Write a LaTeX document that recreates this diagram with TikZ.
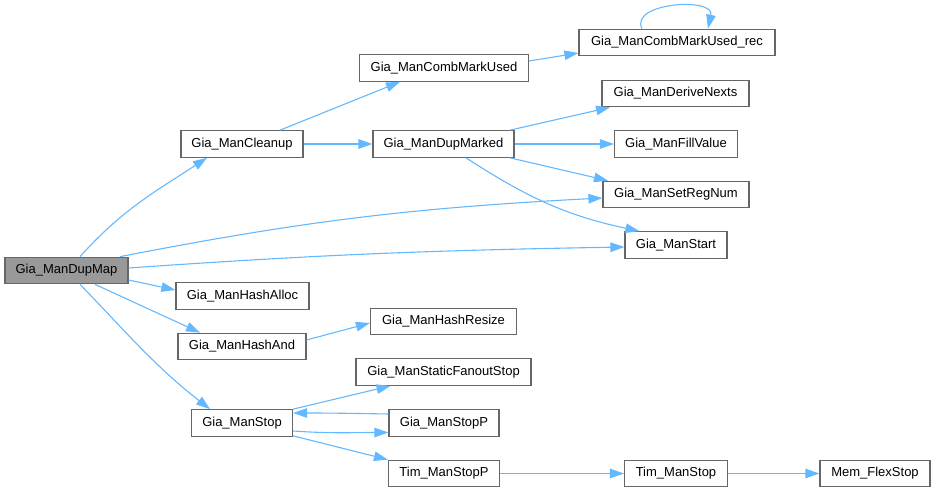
\documentclass[tikz,border=0pt]{standalone}
\usepackage{fontspec}
\setmainfont{Liberation Sans}
\usetikzlibrary{arrows.meta,calc}
\definecolor{edgeblue}{HTML}{63B8FF}
\definecolor{boxborder}{HTML}{666666}
\definecolor{rootfill}{HTML}{999999}
\begin{document}
\begin{tikzpicture}[x=1pt,y=1pt,
  fn/.style={draw=boxborder, fill=white, line width=1.2pt, minimum height=26.5pt,
    minimum width=#1, inner sep=0pt, font=\fontsize{13}{15}\selectfont},
  root/.style={fn=#1, fill=rootfill},
  call/.style={draw=edgeblue, line width=1.1pt, -{Triangle[length=14pt,width=9.5pt]}}]
\useasboundingbox (0,0) rectangle (935,-492);
% nodes
\node[root=123pt] (dupmap) at (66.5,-270.5) {Gia\_ManDupMap};
\node[fn=122pt] (cleanup) at (242,-144) {Gia\_ManCleanup};
\node[fn=133pt] (hashalloc) at (242.5,-296) {Gia\_ManHashAlloc};
\node[fn=128pt] (hashand) at (242,-346.5) {Gia\_ManHashAnd};
\node[fn=101pt] (stop) at (242,-423) {Gia\_ManStop};
\node[fn=169pt] (combmark) at (444,-68) {Gia\_ManCombMarkUsed};
\node[fn=196pt] (rec) at (677,-42.5) {Gia\_ManCombMarkUsed\_rec};
\node[fn=147pt] (derive) at (675.5,-93.5) {Gia\_ManDeriveNexts};
\node[fn=141pt] (dupmarked) at (443.5,-144) {Gia\_ManDupMarked};
\node[fn=123pt] (fillvalue) at (676,-144) {Gia\_ManFillValue};
\node[fn=146pt] (setreg) at (676,-194.5) {Gia\_ManSetRegNum};
\node[fn=102pt] (start) at (676,-245) {Gia\_ManStart};
\node[fn=146pt] (hashresize) at (443.5,-321.5) {Gia\_ManHashResize};
\node[fn=175pt] (static) at (443.5,-372) {Gia\_ManStaticFanoutStop};
\node[fn=110pt] (stopp) at (444,-423) {Gia\_ManStopP};
\node[fn=111pt] (timstopp) at (444,-473.5) {Tim\_ManStopP};
\node[fn=103pt] (timstop) at (676,-473.5) {Tim\_ManStop};
\node[fn=110pt] (memflex) at (875,-473.5) {Mem\_FlexStop};
% edges from Gia_ManDupMap
\draw[call] ($(dupmap.north)+(13.5,0)$) to[out=48,in=213] ($(cleanup.south)+(-35,0)$);
\draw[call] ($(dupmap.north)+(53.5,0)$) to[out=11,in=183] ($(setreg.west)+(0,-3.5)$);
\draw[call] ($(dupmap.east)+(0,2.5)$) to[out=4,in=181] ($(start.west)+(0,-2)$);
\draw[call] ($(dupmap.east)+(0,-9.5)$) -- ($(hashalloc.west)+(0,6)$);
\draw[call] ($(dupmap.south)+(28.5,0)$) -- ($(hashand.north)+(-42,0)$);
\draw[call] ($(dupmap.south)+(13.5,0)$) to[out=-46,in=142] ($(stop.north)+(-32,0)$);
% Gia_ManCleanup
\draw[call] ($(cleanup.north)+(38,0)$) -- ($(combmark.south)+(-44,0)$);
\draw[call] (cleanup.east) -- (dupmarked.west);
% Gia_ManCombMarkUsed
\draw[call] ($(combmark.east)+(0,7)$) -- ($(rec.west)+(0,-10.5)$);
\draw[call] ($(rec.north)+(-35,0)$) .. controls ($(rec.north)+(-48,26)$) and ($(rec.north)+(38,32)$) .. ($(rec.north)+(31,0)$);
% Gia_ManDupMarked
\draw[call] ($(dupmarked.north)+(66.5,0)$) -- ($(derive.south)+(-65.5,0)$);
\draw[call] (dupmarked.east) -- (fillvalue.west);
\draw[call] ($(dupmarked.south)+(66.5,0)$) -- ($(setreg.north)+(-68,0)$);
\draw[call] ($(dupmarked.south)+(22.5,0)$) to[out=-33,in=168] ($(start.north west)+(15,0)$);
% Gia_ManHashAnd
\draw[call] ($(hashand.east)+(0,6.5)$) -- ($(hashresize.west)+(0,-1.5)$);
% Gia_ManStop
\draw[call] (stop.north east) -- ($(static.south)+(-53,0)$);
\draw[call] ($(stopp.west)+(0,9)$) to[out=179,in=0] ($(stop.east)+(0,10)$);
\draw[call] ($(stop.east)+(0,-8)$) to[out=-4,in=180] ($(stopp.west)+(0,-9.5)$);
\draw[call] ($(stop.south east)+(0,1)$) -- (timstopp.north west);
% Tim chain
\draw[call] (timstopp.east) -- (timstop.west);
\draw[call] (timstop.east) -- (memflex.west);
\end{tikzpicture}
\end{document}
